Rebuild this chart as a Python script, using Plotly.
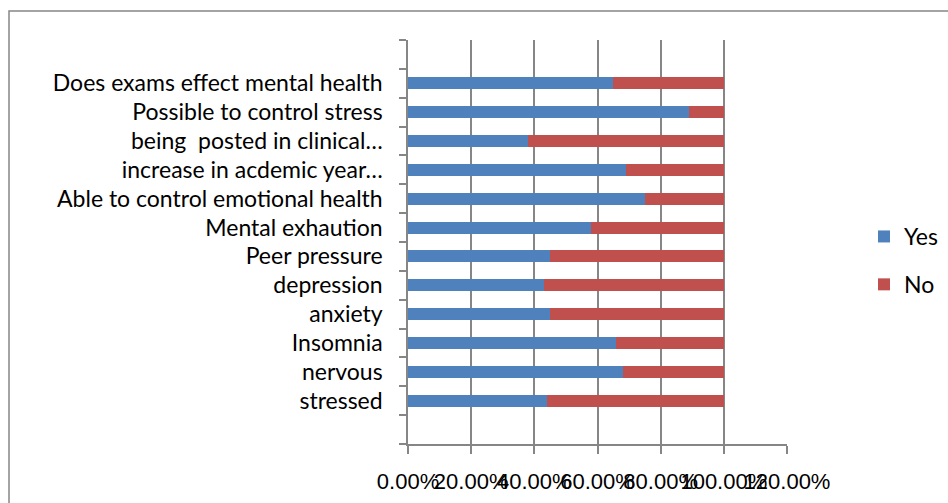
import plotly.graph_objects as go

# Survey items, listed bottom to top as they appear on the axis
categories = [
    "stressed",
    "nervous",
    "Insomnia",
    "anxiety",
    "depression",
    "Peer pressure",
    "Mental exhaution",
    "Able to control emotional health",
    "increase in acdemic year…",
    "being \u00a0posted in clinical…",
    "Possible to control stress",
    "Does exams effect mental health",
]
yes_share = [0.44, 0.68, 0.66, 0.45, 0.43, 0.45, 0.58, 0.75, 0.69, 0.38, 0.89, 0.65]
no_share = [round(1 - v, 2) for v in yes_share]

x_ticks = [0, 0.2, 0.4, 0.6, 0.8, 1.0, 1.2]
x_tick_labels = ["0.00%", "20.00%", "40.00%", "60.00%", "80.00%", "100.00%", "120.00%"]

# empty slots above and below the bars
pad_bottom, pad_top = " ", "  "
axis_order = [pad_bottom] + categories + [pad_top]

BLUE = "#4F81BD"
RED = "#C0504D"
GRID = "#868686"
FONT = "Lato"

fig = go.Figure()
fig.add_trace(go.Bar(y=categories, x=yes_share, name="Yes", orientation="h",
                     legendgroup="yes",
                     marker=dict(color=BLUE, line=dict(width=0))))
fig.add_trace(go.Bar(y=categories, x=no_share, name="No", orientation="h",
                     legendgroup="no",
                     marker=dict(color=RED, line=dict(width=0))))

W, H = 948, 503
L, R, T, B = 408, 161, 40, 59
pw, ph = W - L - R, H - T - B

fig.update_layout(
    width=W, height=H,
    margin=dict(l=L, r=R, t=T, b=B, autoexpand=False),
    barmode="stack",
    bargap=0.58,
    plot_bgcolor="white",
    paper_bgcolor="white",
    font=dict(family=FONT, size=23, color="black"),
    legend=dict(
        x=(864 - L) / pw, y=(444 - 215) / ph, xanchor="left", yanchor="top",
        font=dict(family=FONT, size=23),
        itemsizing="constant", tracegroupgap=15, itemwidth=30,
        traceorder="grouped",
    ),
    showlegend=True,
)

fig.update_xaxes(
    range=[0, 1.2],
    automargin=False,
    tickmode="array", tickvals=x_ticks, ticktext=x_tick_labels,
    tickangle=0,
    showgrid=True, gridcolor=GRID, gridwidth=1.5,
    showline=True, linecolor=GRID, linewidth=1.5,
    ticks="outside", ticklen=8, tickcolor=GRID, tickwidth=1.5,
    tickfont=dict(family="Liberation Sans", size=22),
    ticklabelstandoff=9,
    zeroline=False,
    fixedrange=True,
)
fig.update_yaxes(
    type="category",
    automargin=False,
    categoryorder="array", categoryarray=axis_order,
    tickmode="array", tickvals=axis_order, ticktext=axis_order,
    range=[-0.5, len(axis_order) - 0.5],
    showgrid=False,
    showline=True, linecolor=GRID, linewidth=1.5,
    ticks="outside", ticklen=7, tickcolor=GRID, tickwidth=1.5,
    tickson="boundaries",
    tickfont=dict(family=FONT, size=23),
    ticklabelstandoff=19,
    fixedrange=True,
)

# chart frame
fig.add_shape(
    type="rect", xref="paper", yref="paper",
    x0=(9 - L) / pw, x1=(W + 20 - L) / pw,
    y0=-(20 + B) / ph, y1=(H - B - 11) / ph,
    line=dict(color=GRID, width=1.5), fillcolor="rgba(0,0,0,0)", layer="below",
)

fig.write_html("out.html")
